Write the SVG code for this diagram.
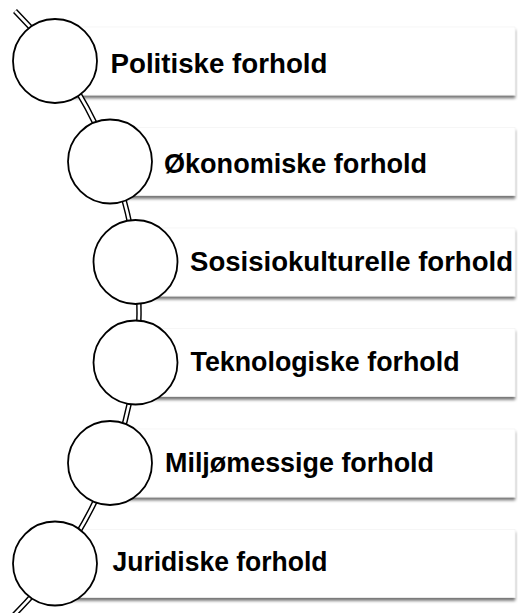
<svg xmlns="http://www.w3.org/2000/svg" width="518" height="613" viewBox="0 0 518 613">
<defs>
<filter id="sh" x="-5%" y="-20%" width="110%" height="150%">
<feGaussianBlur in="SourceAlpha" stdDeviation="1.8"/>
<feOffset dx="0" dy="3" result="b"/>
<feComponentTransfer><feFuncA type="linear" slope="0.55"/></feComponentTransfer>
<feMerge><feMergeNode/><feMergeNode in="SourceGraphic"/></feMerge>
</filter>
<style>
.bar{fill:#ffffff;stroke:#f2f2f2;stroke-width:0.6;filter:url(#sh)}
.dot{fill:#ffffff;stroke:#000000;stroke-width:1.8}
.lbl{font-family:"Liberation Sans",Arial,sans-serif;font-weight:bold;font-size:27px;fill:#000000}
.outer{fill:none;stroke:#000000;stroke-width:5.5}
.inner{fill:none;stroke:#ffffff;stroke-width:2.6}
</style>
</defs>
<rect width="518" height="613" fill="#ffffff"/>
<g id="bars">
<rect class="bar" x="55" y="27" width="460" height="68"/>
<rect class="bar" x="110" y="127.5" width="405" height="68"/>
<rect class="bar" x="135.5" y="228" width="379.5" height="68"/>
<rect class="bar" x="135.5" y="328.5" width="379.5" height="68"/>
<rect class="bar" x="110" y="429" width="405" height="68"/>
<rect class="bar" x="55" y="529.5" width="460" height="68"/>
</g>
<g id="connectors">
<path class="outer" d="M 15 11 A 428.5 428.5 0 0 1 13 616"/>
<path class="inner" d="M 15 11 A 428.5 428.5 0 0 1 13 616"/>
</g>
<g id="node1">
<circle class="dot" cx="55" cy="61" r="42"/>
<text class="lbl" x="110.5" y="72.5" textLength="217" lengthAdjust="spacingAndGlyphs">Politiske forhold</text>
</g>
<g id="node2">
<circle class="dot" cx="110" cy="161.5" r="42"/>
<text class="lbl" x="164" y="173" textLength="263" lengthAdjust="spacingAndGlyphs">Økonomiske forhold</text>
</g>
<g id="node3">
<circle class="dot" cx="135.5" cy="262" r="42"/>
<text class="lbl" x="190" y="270.5" textLength="323" lengthAdjust="spacingAndGlyphs">Sosisiokulturelle forhold</text>
</g>
<g id="node4">
<circle class="dot" cx="135.5" cy="362.5" r="42"/>
<text class="lbl" x="190.5" y="370.5" textLength="269" lengthAdjust="spacingAndGlyphs">Teknologiske forhold</text>
</g>
<g id="node5">
<circle class="dot" cx="110" cy="463" r="42"/>
<text class="lbl" x="165" y="471.5" textLength="269" lengthAdjust="spacingAndGlyphs">Miljømessige forhold</text>
</g>
<g id="node6">
<circle class="dot" cx="55" cy="563.5" r="42"/>
<text class="lbl" x="112.5" y="570.5" textLength="215" lengthAdjust="spacingAndGlyphs">Juridiske forhold</text>
</g>
</svg>
